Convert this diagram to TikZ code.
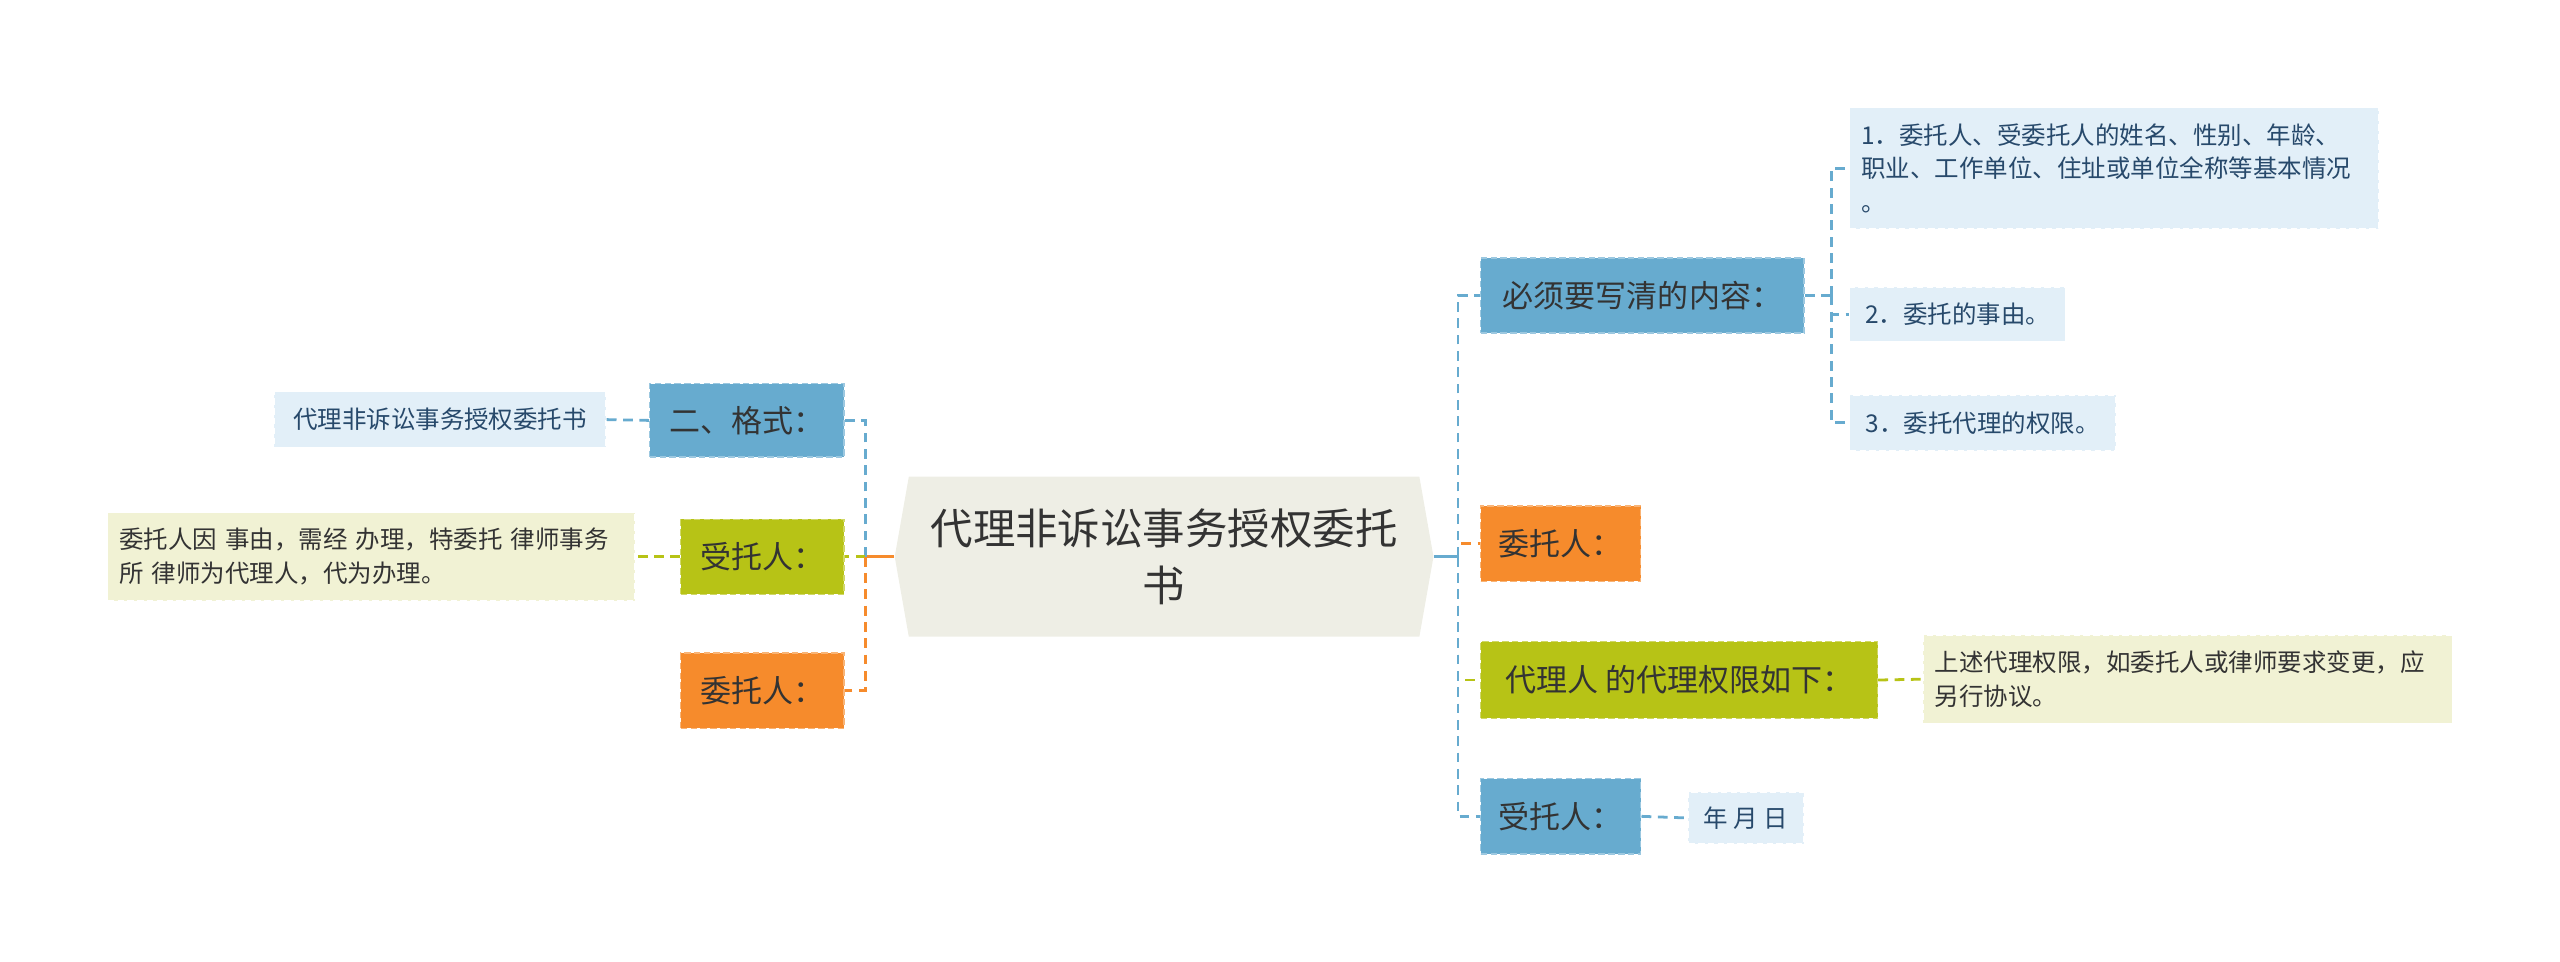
\documentclass[tikz,border=0pt]{standalone}
\usepackage{fontspec}
\newfontfamily\cjk{Noto Sans CJK SC}
\usetikzlibrary{shapes.symbols}
\definecolor{bluetop}{HTML}{67ABCF}
\definecolor{greentop}{HTML}{B7C316}
\definecolor{orangetop}{HTML}{F68B2C}
\definecolor{bluelf}{HTML}{E2EFF8}
\definecolor{greenlf}{HTML}{F1F2D4}
\definecolor{hubfill}{HTML}{EEEEE5}
\definecolor{ink}{HTML}{333333}
\definecolor{navy}{HTML}{27496B}
\tikzset{every node/.style={font=\cjk,text=ink},
  hub/.style={signal,signal to=east and west,signal pointer angle=160,fill=hubfill,minimum width=330pt,minimum height=98pt,align=center,font=\cjk\fontsize{26}{35}\selectfont},
  topic/.style={fill=#1,draw=#1!65!white,dash pattern=on 4pt off 2pt,line width=.8pt,minimum height=46pt,inner xsep=10pt,font=\cjk\fontsize{19}{23}\selectfont},
  leaf/.style={fill=#1,draw=white,dash pattern=on 4pt off 2pt,line width=.8pt,inner xsep=7pt,align=left,font=\cjk\fontsize{15}{20.5}\selectfont},
  edge/.style={draw=#1,line width=2pt},
  link/.style={draw=#1,line width=1.7pt,dash pattern=on 6pt off 4pt}}
\begin{document}
\begin{tikzpicture}[x=1pt,y=-1pt]
\useasboundingbox (0,0) rectangle (1568,589);
\node[hub] (hub) at (713,341) {代理非诉讼事务授权委托\\书};
% right side
\node[topic=bluetop,minimum width=198pt] (must) at (1006,181) {必须要写清的内容：};
\node[topic=orangetop,minimum width=98pt] (wtr) at (956,333) {委托人：};
\node[topic=greentop,minimum width=243pt,minimum height=47pt] (qx) at (1028.5,416.5) {代理人 的代理权限如下：};
\node[topic=bluetop,minimum width=98pt] (str) at (956,500) {受托人：};
\node[leaf=bluelf,text=navy,text width=310pt,minimum height=74pt] (n1) at (1295,103) {1．委托人、受委托人的姓名、性别、年龄、\\职业、工作单位、住址或单位全称等基本情况\\。};
\node[leaf=bluelf,text=navy,minimum width=132pt,minimum height=33pt] (n2) at (1199,192.5) {2．委托的事由。};
\node[leaf=bluelf,text=navy,minimum width=163pt,minimum height=34pt] (n3) at (1214.5,259) {3．委托代理的权限。};
\node[leaf=greenlf,text width=310pt,minimum height=54pt] (bg) at (1340,416) {上述代理权限，如委托人或律师要求变更，应\\另行协议。};
\node[leaf=bluelf,text=navy,minimum width=71pt,minimum height=32pt] (rq) at (1069.5,501) {年 月 日};
% left side
\node[topic=bluetop,minimum width=119pt,minimum height=45pt] (gs) at (457.5,257.5) {二、格式：};
\node[topic=greentop,minimum width=100pt] (sl) at (467,341) {受托人：};
\node[topic=orangetop,minimum width=100pt] (wl) at (467,423) {委托人：};
\node[leaf=bluelf,text=navy,minimum width=203pt,minimum height=34pt] (tt) at (269.5,257) {代理非诉讼事务授权委托书};
\node[leaf=greenlf,text width=309pt,minimum height=54pt] (wt) at (227.5,341) {委托人因 事由，需经 办理，特委托 律师事务\\所 律师为代理人，代为办理。};
% connectors
\coordinate (rj) at (893,341);\coordinate (lj) at (530,341);\coordinate (mj) at (1122,181);
\draw[edge=bluetop] (hub.east) -- (rj);
\draw[link=orangetop] (rj) |- (wtr.west);\draw[link=greentop] (rj) |- (qx.west);
\draw[link=bluetop] (rj) |- (must.west);\draw[link=bluetop] (rj) |- (str.west);
\draw[link=bluetop] (must.east) -- (mj);\draw[link=bluetop] (mj) |- (n1.west);
\draw[link=bluetop] (mj) |- (n2.west);\draw[link=bluetop] (mj) |- (n3.west);
\draw[link=greentop] (qx.east) -- (bg.west);\draw[link=bluetop] (str.east) -- (rq.west);
\draw[edge=orangetop] (hub.west) -- (lj);
\draw[link=bluetop] (lj) |- (gs.east);\draw[link=greentop] (lj) -- (sl.east);\draw[link=orangetop] (lj) |- (wl.east);
\draw[link=bluetop] (gs.west) -- (tt.east);\draw[link=greentop] (sl.west) -- (wt.east);
\end{tikzpicture}
\end{document}
